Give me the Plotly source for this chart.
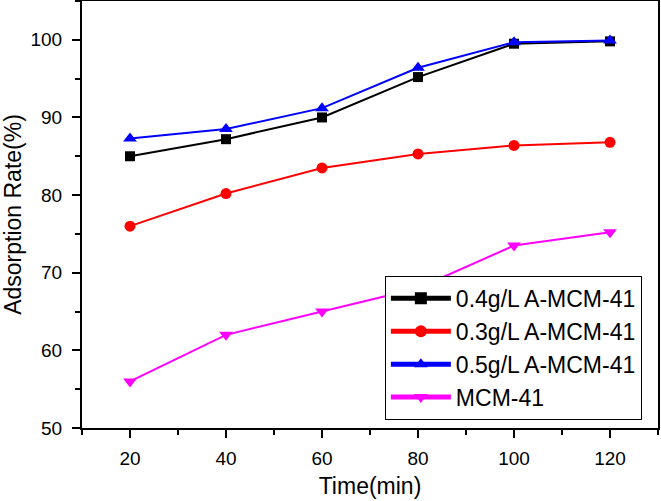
import plotly.graph_objects as go

time_min = [20, 40, 60, 80, 100, 120]
s04 = [85.0, 87.2, 90.0, 95.2, 99.5, 99.8]
s03 = [76.0, 80.2, 83.5, 85.3, 86.4, 86.8]
s05 = [87.3, 88.5, 91.2, 96.4, 99.7, 99.9]
mcm = [56.0, 62.0, 65.0, 68.0, 73.5, 75.2]

names = ["0.4g/L A-MCM-41", "0.3g/L A-MCM-41", "0.5g/L A-MCM-41", "MCM-41"]
colors = ["#000000", "#FF0000", "#0000FF", "#FF00FF"]
symbols = ["square", "circle", "triangle-up", "triangle-down"]
sizes = [10, 11, 12, 12]
series = [s04, s03, s05, mcm]

FONT = "Arial, Liberation Sans, sans-serif"

fig = go.Figure()
for n, c, s, sz, v in zip(names, colors, symbols, sizes, series):
    fig.add_trace(go.Scatter(
        x=time_min, y=v, name=n, mode="lines+markers",
        line=dict(color=c, width=2),
        marker=dict(symbol=s, size=sz, color=c),
    ))

fig.update_layout(
    width=661, height=501,
    margin=dict(l=82, r=3, t=1, b=73, autoexpand=False),
    plot_bgcolor="white", paper_bgcolor="white",
    font=dict(family=FONT, color="black"),
    showlegend=True,
    legend=dict(
        x=0.972, y=0.019, xanchor="right", yanchor="bottom",
        bordercolor="black", borderwidth=1, bgcolor="white",
        font=dict(size=23, family=FONT),
        tracegroupgap=0, itemsizing="constant", itemwidth=60,
    ),
)
fig.update_xaxes(
    range=[10, 130], tickmode="linear", tick0=0, dtick=20, automargin=False,
    showline=True, linecolor="black", linewidth=2, mirror=True,
    ticks="outside", ticklen=8, tickwidth=2, tickcolor="black",
    ticklabelstandoff=4,
    minor=dict(ticks="outside", ticklen=5, tickwidth=2, tickcolor="black", dtick=10, tick0=0),
    showgrid=False, zeroline=False,
    tickfont=dict(size=19, family=FONT),
    title=dict(text="Time(min)", font=dict(size=23, family=FONT), standoff=10),
)
fig.update_yaxes(
    range=[50, 105], tickmode="linear", tick0=0, dtick=10, automargin=False,
    showline=True, linecolor="black", linewidth=2, mirror=True,
    ticks="outside", ticklen=8, tickwidth=2, tickcolor="black",
    ticklabelstandoff=6,
    minor=dict(ticks="outside", ticklen=5, tickwidth=2, tickcolor="black", dtick=5, tick0=0),
    showgrid=False, zeroline=False,
    tickfont=dict(size=19, family=FONT),
    title=dict(text="Adsorption Rate(%)", font=dict(size=23, family=FONT), standoff=7),
)

fig.write_html(
    "out.html",
    config={"displayModeBar": False},
    post_script="document.body.style.margin='0';document.body.style.padding='0';",
)
